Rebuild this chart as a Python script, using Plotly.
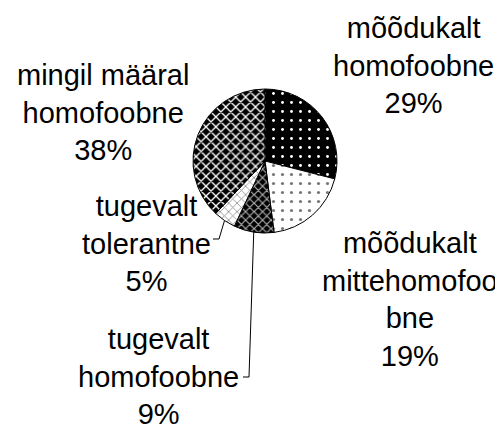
import math
import plotly.graph_objects as go

W, H = 503, 428
OFF = 8  # page body margin in the browser

labels = [
    "mõõdukalt<br>homofoobne",
    "mõõdukalt<br>mittehomofoo<br>bne",
    "tugevalt<br>homofoobne",
    "tugevalt<br>tolerantne",
    "mingil määral<br>homofoobne",
]
values = [29, 19, 9, 5, 38]

# fill patterns, one per slice (bg, fg, shape, size, solidity)
patterns = [
    ("black", "white", ".", 9, 0.08),
    ("white", "#777777", ".", 9, 0.1),
    ("black", "#b0b0b0", "x", 6, 0.35),
    ("white", "#888888", "x", 6, 0.25),
    ("black", "white", "x", 7, 0.35),
]

# pie geometry in screen pixels
cx, cy, r = 265, 161, 72

# label block centres (screen px) and leader line start points
label_pos = [(413, 66), (410, 299), (158, 376), (146, 243), (103, 112)]
leaders = [None, None, (243, 377), (213, 239), None]

FW, FH = W - OFF, H - OFF


def px(x):
    return (x - OFF) / FW


def py(y):
    return 1 - (y - OFF) / FH


fig = go.Figure(
    go.Pie(
        labels=labels,
        values=values,
        sort=False,
        direction="clockwise",
        rotation=0,
        textinfo="none",
        hoverinfo="label+percent",
        showlegend=False,
        domain={"x": [px(cx - r), px(cx + r)], "y": [py(cy + r), py(cy - r)]},
        marker={
            "colors": [p[0] for p in patterns],
            "line": {"color": "black", "width": 1},
            "pattern": {
                "bgcolor": [p[0] for p in patterns],
                "fgcolor": [p[1] for p in patterns],
                "shape": [p[2] for p in patterns],
                "size": [p[3] for p in patterns],
                "solidity": [p[4] for p in patterns],
            },
        },
    )
)

total = sum(values)
cum = 0
annotations = []
shapes = []
for lab, val, (lx, ly), lead in zip(labels, values, label_pos, leaders):
    pct = round(100 * val / total)
    annotations.append(dict(
        x=px(lx), y=py(ly), xref="paper", yref="paper",
        text=f"{lab}<br>{pct}%", showarrow=False,
        xanchor="center", yanchor="middle",
        font={"size": 29, "color": "black"},
    ))
    mid = (cum + val / 2) / total * 2 * math.pi
    cum += val
    if lead:
        ex = cx + r * math.sin(mid)
        ey = cy - r * math.cos(mid)
        sx, sy = lead
        path = f"M {px(sx)} {py(sy)} L {px(sx + 6)} {py(sy)} L {px(ex)} {py(ey)}"
        shapes.append(dict(type="path", xref="paper", yref="paper", path=path,
                           line={"color": "black", "width": 1}))

fig.update_layout(
    width=FW, height=FH,
    margin={"l": 0, "r": 0, "t": 0, "b": 0},
    paper_bgcolor="white",
    plot_bgcolor="white",
    font={"family": "Liberation Sans, Arial", "size": 29, "color": "black"},
    annotations=annotations,
    shapes=shapes,
)

fig.write_html("out.html")
